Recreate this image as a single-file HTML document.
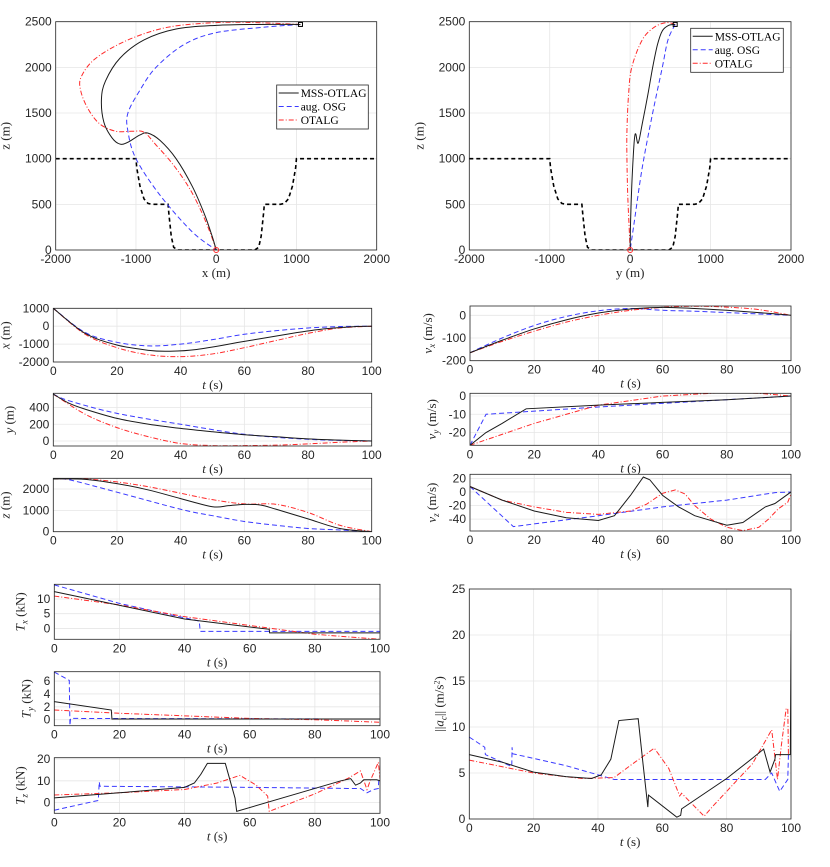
<!DOCTYPE html>
<html><head><meta charset="utf-8">
<style>
html,body{margin:0;padding:0;background:#fff;}
svg{display:block;}
.tk{font-family:"Liberation Sans","DejaVu Sans",sans-serif;font-size:12px;fill:#262626;}
.lb{font-family:"Liberation Serif",serif;font-size:13px;fill:#262626;}
.lg{font-family:"Liberation Serif",serif;font-size:11.5px;fill:#000;}
</style></head>
<body>
<svg id="fig" width="830" height="867" viewBox="0 0 830 867" xmlns="http://www.w3.org/2000/svg"></svg>
<script>
// ---------- DATA ----------
const tTicks=[0,20,40,60,80,100];
const posTicks=[-2000,-1000,0,1000,2000];
const zTicks=[0,500,1000,1500,2000,2500];
const obstacle=[[-2000,1000],[-1000,1000],[-990,900],[-950,700],[-900,560],[-850,510],[-800,500],[-600,500],[-590,400],[-560,150],[-530,30],[-480,0],[480,0],[530,30],[560,150],[590,400],[600,500],[800,500],[850,510],[900,560],[950,700],[990,900],[1000,1000],[2000,1000]];
const xzBlack=[[1050,2470],[500,2470],[0,2460],[-500,2420],[-900,2300],[-1200,2100],[-1380,1850],[-1430,1650],[-1400,1400],[-1300,1230],[-1200,1160],[-1100,1180],[-950,1260],[-850,1280],[-700,1200],[-500,1000],[-300,700],[-150,400],[-50,150],[0,0]];
const xzBlue=[[1050,2470],[600,2440],[0,2380],[-400,2250],[-750,2000],[-950,1750],[-1100,1500],[-1100,1300],[-1000,1000],[-700,600],[-300,200],[0,0]];
const xzRed=[[1050,2470],[500,2490],[0,2490],[-600,2440],[-1100,2300],[-1500,2100],[-1680,1900],[-1690,1750],[-1600,1550],[-1450,1380],[-1250,1300],[-1050,1300],[-900,1290],[-750,1150],[-550,950],[-350,700],[-200,450],[-80,200],[0,0]];
const yzBlack=[[560,2470],[480,2460],[400,2400],[340,2250],[280,2000],[220,1700],[150,1380],[100,1170],[70,1270],[55,1230],[40,1050],[20,700],[5,300],[0,0]];
const yzBlue=[[560,2470],[470,2300],[400,2000],[280,1500],[150,900],[50,300],[0,0]];
const yzRed=[[560,2470],[450,2490],[300,2440],[150,2300],[20,2000],[-20,1700],[-40,1300],[-40,1000],[-30,600],[-10,200],[0,0]];
const xBlack=[[0,1000],[10,-400],[20,-1050],[30,-1350],[36,-1400],[45,-1300],[60,-850],[75,-400],[85,-150],[95,-20],[100,0]];
const xBlue=[[0,1000],[10,-350],[20,-900],[30,-1100],[40,-1000],[50,-750],[60,-450],[70,-250],[80,-100],[90,-20],[100,0]];
const xRed=[[0,1000],[10,-450],[20,-1200],[30,-1600],[40,-1700],[50,-1550],[60,-1200],[70,-800],[80,-400],[90,-100],[100,0]];
const yBlack=[[0,560],[5,450],[10,380],[20,270],[30,200],[40,150],[50,110],[60,75],[70,50],[80,25],[90,10],[100,0]];
const yBlue=[[0,560],[5,480],[20,330],[40,200],[60,80],[80,20],[100,0]];
const yRed=[[0,560],[10,320],[20,160],[30,50],[40,-30],[50,-55],[60,-55],[70,-50],[80,-35],[90,-15],[100,0]];
const zBlack=[[0,2470],[10,2450],[20,2250],[30,1950],[40,1550],[50,1170],[55,1220],[60,1280],[65,1250],[70,1050],[80,600],[90,150],[100,0]];
const zBlue=[[0,2470],[5,2430],[20,1850],[40,1050],[50,750],[60,480],[70,300],[80,150],[90,80],[100,0]];
const zRed=[[0,2470],[10,2470],[20,2330],[30,2100],[40,1800],[50,1500],[60,1300],[70,1280],[80,900],[90,300],[100,0]];
const vxBlack=[[0,-165],[10,-110],[20,-60],[30,-20],[40,10],[50,28],[60,35],[70,30],[80,22],[90,12],[100,0]];
const vxBlue=[[0,-165],[10,-100],[20,-45],[30,-5],[40,20],[50,30],[60,22],[70,18],[80,12],[90,6],[100,0]];
const vxRed=[[0,-165],[10,-115],[20,-70],[30,-30],[40,0],[50,22],[60,35],[70,40],[80,36],[90,25],[100,0]];
const vyBlack=[[0,-27],[5,-20],[10,-15],[17.5,-7],[40,-5],[60,-3.5],[80,-2],[100,0]];
const vyBlue=[[0,-27],[5,-10],[40,-6],[60,-4],[80,-2],[100,0]];
const vyRed=[[0,-27],[20,-15],[40,-5],[60,0],[80,2],[90,1.5],[100,0]];
const vzBlack=[[0,8],[10,-12],[20,-28],[30,-38],[40,-42],[45,-35],[50,-5],[54,22],[56,18],[60,-5],[65,-22],[70,-35],[80,-49],[85,-45],[92,-22],[95,-17],[100,0]];
const vzBlue=[[0,8],[13.5,-51],[40,-35],[60,-22],[80,-12],[95,-1],[100,0]];
const vzRed=[[0,8],[10,-12],[20,-22],[30,-30],[40,-33],[50,-28],[55,-18],[60,-2],[64,3],[67,-3],[70,-20],[75,-40],[80,-52],[85,-57],[90,-52],[93,-40],[96,-25],[99,-15],[100,-3]];
const txBlack=[[0,12.5],[40,3.2],[66,-0.3],[66.1,-1.5],[100,-1.5]];
const txBlue=[[0,14.8],[20,8.5],[44.5,2.5],[44.8,-1],[100,-1]];
const txRed=[[0,11],[20,8],[40,4],[60,1],[80,-2],[100,-3.7]];
const tyBlack=[[0,2.8],[17.5,1.5],[17.7,0.1],[100,0.1]];
const tyBlue=[[0,7.4],[4.6,6.1],[4.8,-0.9],[5,0.2],[100,0.1]];
const tyRed=[[0,1.5],[20,1],[40,0.6],[60,0.2],[80,0],[100,-0.4]];
const tzBlack=[[0,2.2],[20,4.5],[40,7],[43,9],[45,13],[47,18],[52.5,18],[54,10],[55.5,2],[56,-4],[80,6.5],[88,10],[91,11],[92.5,8],[94,9],[95,10.5],[99,10.5],[100,10]];
const tzBlue=[[0,-3.5],[13.5,1],[13.8,9.5],[14,7.5],[60,7],[90,6.5],[94,6.5],[96,4.5],[98,6],[99.5,6.5],[99.6,10],[100,8.5]];
const tzRed=[[0,3.5],[20,4.5],[40,6],[50,9],[57,12.5],[62,8],[65.5,3],[66,-4],[80,4],[90,11],[94,14.5],[96,6],[97,10],[99.5,18.5],[100,11]];
const accBlack=[[0,7],[10,6.2],[20,5.1],[30,4.6],[38,4.4],[41,4.8],[44,6.5],[46.5,10.7],[52.5,10.9],[54,6],[55.5,1.3],[55.7,2.6],[64.5,0.2],[65.7,0.4],[66,1.1],[80,4.4],[88,6.6],[91.5,7.6],[93.5,5.1],[95,6.5],[95.2,7],[99.8,7],[100,20.5]];
const accBlue=[[0,8.9],[4.8,7.8],[5,7],[13.2,5.7],[13.3,7.8],[13.4,7.1],[30,5.8],[40,4.8],[45,4.3],[92,4.3],[94,5],[96.5,3],[99,4.3],[99.2,7],[100,6.8]];
const accRed=[[0,6.4],[20,5],[35,4.4],[45,4.5],[50,5.8],[57.5,7.7],[62,5.5],[65.4,2.5],[66,2.8],[73,0.3],[76,1.5],[80,3],[88,6],[94,9.7],[95.8,4.3],[97,8],[98.5,12],[99,12],[99.2,7]];

// ---------- HELPERS ----------
const NS="http://www.w3.org/2000/svg";
const fig=document.getElementById('fig');
function mk(tag,attrs,parent){const e=document.createElementNS(NS,tag);for(const k in attrs)e.setAttribute(k,attrs[k]);(parent||fig).appendChild(e);return e;}
const STY={
 black:{stroke:'#1a1a1a',dash:'',w:1},
 blue:{stroke:'#3a3aff',dash:'5,3',w:1},
 red:{stroke:'#ff2a2a',dash:'5,2,1,2',w:1},
 obst:{stroke:'#000',dash:'4,3',w:1.6}
};
function axes(name,x0,x1,y0,y1,xmin,xmax,ymin,ymax,xt,yt){
  const g=mk('g',{});
  
  
  const sx=v=>x0+(v-xmin)/(xmax-xmin)*(x1-x0);
  const sy=v=>y1-(v-ymin)/(ymax-ymin)*(y1-y0);
  mk('rect',{x:x0,y:y0,width:x1-x0,height:y1-y0,fill:'#fff'},g);
  xt.forEach(v=>{const x=sx(v);mk('line',{x1:x,x2:x,y1:y0,y2:y1,stroke:'#e6e6e6','stroke-width':0.8},g);
    const t=mk('text',{x:x,y:y1+13,'text-anchor':'middle',class:'tk'},g);t.textContent=v;
    
    });
  yt.forEach(v=>{const y=sy(v);mk('line',{x1:x0,x2:x1,y1:y,y2:y,stroke:'#e6e6e6','stroke-width':0.8},g);
    const t=mk('text',{x:x0-4,y:y+4,'text-anchor':'end',class:'tk'},g);t.textContent=v;
    
    });
  const clipId='c'+Math.round(x0)+'_'+Math.round(y0);
  const cp=mk('clipPath',{id:clipId},g);mk('rect',{x:x0,y:y0,width:x1-x0,height:y1-y0},cp);
  const pg=mk('g',{'clip-path':'url(#'+clipId+')'},g);
  return {g,sx,sy,pg,x0,x1,y0,y1};
}
function frame(ax){mk('rect',{x:ax.x0,y:ax.y0,width:ax.x1-ax.x0,height:ax.y1-ax.y0,fill:'none',stroke:'#262626','stroke-width':0.8},ax.g);}
function pathD(pts,smooth){
  if(!smooth) return pts.map((p,i)=>(i?'L':'M')+p[0].toFixed(2)+','+p[1].toFixed(2)).join('');
  let d='M'+pts[0][0].toFixed(2)+','+pts[0][1].toFixed(2);
  for(let i=0;i<pts.length-1;i++){
    const p0=pts[Math.max(i-1,0)],p1=pts[i],p2=pts[i+1],p3=pts[Math.min(i+2,pts.length-1)];
    const c1=[p1[0]+(p2[0]-p0[0])/6,p1[1]+(p2[1]-p0[1])/6];
    const c2=[p2[0]-(p3[0]-p1[0])/6,p2[1]-(p3[1]-p1[1])/6];
    d+='C'+c1[0].toFixed(2)+','+c1[1].toFixed(2)+' '+c2[0].toFixed(2)+','+c2[1].toFixed(2)+' '+p2[0].toFixed(2)+','+p2[1].toFixed(2);
  }
  return d;
}
function series(ax,data,sty,name,smooth){
  const s=STY[sty];
  const pts=data.map(p=>[ax.sx(p[0]),ax.sy(p[1])]);
  const p=mk('path',{d:pathD(pts,smooth),fill:'none',stroke:s.stroke,'stroke-width':s.w,'stroke-dasharray':s.dash},ax.pg);
  
  
}
function three(ax,b,bl,r,smooth){
  series(ax,bl,'blue','aug-osg-line',smooth);series(ax,r,'red','otalg-line',smooth);series(ax,b,'black','mss-otlag-line',smooth);
}
function xlabel(ax,html){const t=mk('text',{x:(ax.x0+ax.x1)/2,y:ax.y1+27,'text-anchor':'middle',class:'lb'},ax.g);t.innerHTML=html;
  
  }
function ylabel(ax,html,off){const cx=ax.x0-(off||38),cy=(ax.y0+ax.y1)/2;
  const t=mk('text',{x:cx,y:cy,'text-anchor':'middle',class:'lb',transform:'rotate(-90 '+cx+' '+cy+')'},ax.g);t.innerHTML=html;
  
  }
function endMarkers(ax,end){
  mk('rect',{x:ax.sx(end[0])-2,y:ax.sy(end[1])-2,width:4,height:4,fill:'none',stroke:'#000','stroke-width':1},ax.g);
  mk('circle',{cx:ax.sx(0),cy:ax.sy(0),r:2.5,fill:'none',stroke:'#ff2a2a','stroke-width':1},ax.g);
}
function legend(ax,x,y,w,h){
  const g=mk('g',{},ax.g);
  
  
  mk('rect',{x:x,y:y,width:w,height:h,fill:'#fff',stroke:'#262626','stroke-width':0.8},g);
  const items=[['MSS-OTLAG','black'],['aug. OSG','blue'],['OTALG','red']];
  items.forEach((it,i)=>{const yy=y+8+i*13.5;const s=STY[it[1]];
    mk('line',{x1:x+2,x2:x+22,y1:yy,y2:yy,stroke:s.stroke,'stroke-dasharray':s.dash,'stroke-width':1},g);
    const t=mk('text',{x:x+24,y:yy+4,class:'lg'},g);t.textContent=it[0];
    
    });
}
const I=s=>'<tspan font-style="italic">'+s+'</tspan>';

// ---------- TOP LEFT: x-z ----------
let a=axes('xz-plot',55.7,376.7,21.7,250,-2000,2000,0,2500,posTicks,zTicks);
series(a,obstacle,'obst','obstacle-boundary',false);three(a,xzBlack,xzBlue,xzRed,true);
frame(a);endMarkers(a,[1050,2470]);xlabel(a,'x (m)');ylabel(a,'z (m)',46);legend(a,276.7,85,91.6,44);
// ---------- TOP RIGHT: y-z ----------
a=axes('yz-plot',469.3,791,21.7,250,-2000,2000,0,2500,posTicks,zTicks);
series(a,obstacle,'obst','obstacle-boundary',false);three(a,yzBlack,yzBlue,yzRed,true);
frame(a);endMarkers(a,[560,2470]);xlabel(a,'y (m)');ylabel(a,'z (m)',46);legend(a,690.7,28.3,92.6,44);
// ---------- MIDDLE LEFT ----------
const ML=[53.3,371.7];
a=axes('x-vs-t',ML[0],ML[1],308.3,362,0,100,-2000,1000,tTicks,[-2000,-1000,0,1000]);
three(a,xBlack,xBlue,xRed,true);frame(a);xlabel(a,I('t')+' (s)');ylabel(a,I('x')+' (m)',44);
a=axes('y-vs-t',ML[0],ML[1],393.3,446,0,100,-60,570,tTicks,[0,200,400]);
three(a,yBlack,yBlue,yRed,true);frame(a);xlabel(a,I('t')+' (s)');ylabel(a,I('y')+' (m)',40);
a=axes('z-vs-t',ML[0],ML[1],478.3,531.7,0,100,0,2500,tTicks,[0,1000,2000]);
three(a,zBlack,zBlue,zRed,true);frame(a);xlabel(a,I('t')+' (s)');ylabel(a,I('z')+' (m)',44);
// ---------- MIDDLE RIGHT ----------
const MR=[470,791];
a=axes('vx-vs-t',MR[0],MR[1],306,360.7,0,100,-200,41,tTicks,[-200,-100,0]);
three(a,vxBlack,vxBlue,vxRed,true);frame(a);xlabel(a,I('t')+' (s)');ylabel(a,I('v<tspan font-size="9" dy="3">x</tspan>')+'<tspan dy="-3"> (m/s)</tspan>',38);
a=axes('vy-vs-t',MR[0],MR[1],393.3,445.3,0,100,-27,1.5,tTicks,[-20,-10,0]);
three(a,vyBlack,vyBlue,vyRed,false);frame(a);xlabel(a,I('t')+' (s)');ylabel(a,I('v<tspan font-size="9" dy="3">y</tspan>')+'<tspan dy="-3"> (m/s)</tspan>',34);
a=axes('vz-vs-t',MR[0],MR[1],474.3,531,0,100,-57.5,26,tTicks,[-40,-20,0,20]);
three(a,vzBlack,vzBlue,vzRed,false);frame(a);xlabel(a,I('t')+' (s)');ylabel(a,I('v<tspan font-size="9" dy="3">z</tspan>')+'<tspan dy="-3"> (m/s)</tspan>',34);
// ---------- BOTTOM LEFT ----------
const BL=[54.3,380];
a=axes('tx-vs-t',BL[0],BL[1],584.3,639.3,0,100,-3.7,15,tTicks,[0,5,10]);
three(a,txBlack,txBlue,txRed,false);frame(a);xlabel(a,I('t')+' (s)');ylabel(a,I('T<tspan font-size="9" dy="3">x</tspan>')+'<tspan dy="-3"> (kN)</tspan>',30);
a=axes('ty-vs-t',BL[0],BL[1],671.7,725.7,0,100,-0.93,7.45,tTicks,[0,2,4,6]);
three(a,tyBlack,tyBlue,tyRed,false);frame(a);xlabel(a,I('t')+' (s)');ylabel(a,I('T<tspan font-size="9" dy="3">y</tspan>')+'<tspan dy="-3"> (kN)</tspan>',24);
a=axes('tz-vs-t',BL[0],BL[1],757.7,813.3,0,100,-4.9,20.6,tTicks,[0,10,20]);
three(a,tzBlack,tzBlue,tzRed,false);frame(a);xlabel(a,I('t')+' (s)');ylabel(a,I('T<tspan font-size="9" dy="3">z</tspan>')+'<tspan dy="-3"> (kN)</tspan>',30);
// ---------- BOTTOM RIGHT ----------
a=axes('acc-norm-vs-t',469.3,791,589,819,0,100,0,25,tTicks,[0,5,10,15,20,25]);
three(a,accBlack,accBlue,accRed,false);frame(a);xlabel(a,I('t')+' (s)');
ylabel(a,'||'+I('a<tspan font-size="9" dy="3">c</tspan>')+'<tspan dy="-3">|| (m/s</tspan><tspan font-size="8" dy="-4">2</tspan><tspan dy="4">)</tspan>',26);
</script>
</body></html>
